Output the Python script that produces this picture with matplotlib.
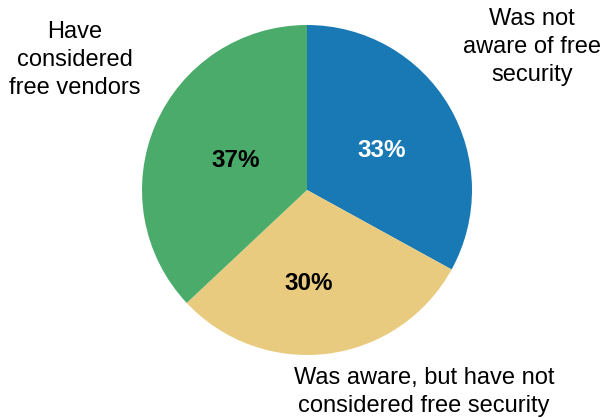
import matplotlib
matplotlib.use("Agg")
import matplotlib.pyplot as plt

# Survey shares, clockwise from 12 o'clock
labels = ["Was not\naware of free\nsecurity",
          "Was aware, but have not\nconsidered free security",
          "Have\nconsidered\nfree vendors"]
shares = [33, 30, 37]
colors = ["#1879b4", "#e8cb7f", "#4bab6b"]
pct_colors = ["white", "black", "black"]

plt.rcParams['font.family'] = ['Liberation Sans', 'DejaVu Sans']

W, H = 603, 417
fig = plt.figure(figsize=(W / 100, H / 100), dpi=100)
ax = fig.add_axes([0, 0, 1, 1])

wedges, _ = ax.pie(shares, colors=colors, startangle=90, counterclock=False,
                   center=(307, H - 190), radius=165, frame=True,
                   wedgeprops={"linewidth": 0})
ax.set_xlim(0, W)
ax.set_ylim(0, H)
ax.set_aspect('equal')
ax.axis('off')

# percentage labels (pixel positions measured from top)
pct_pos = [(382, 150), (309, 283), (236, 160)]
for s, (x, y), c in zip(shares, pct_pos, pct_colors):
    ax.text(x, H - y, f"{s}%", ha='center', va='center', fontsize=17.5,
            fontweight='bold', color=c)

# category labels
lab_pos = [(532, 47), (424, 392), (75, 60)]
for lab, (x, y) in zip(labels, lab_pos):
    ax.text(x, H - y, lab, ha='center', va='center', fontsize=17,
            color='black', linespacing=1.38)

fig.savefig("out.png", dpi=100)
